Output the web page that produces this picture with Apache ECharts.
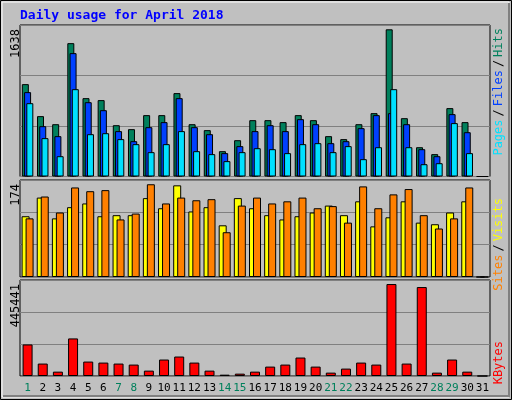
<!DOCTYPE html>
<html><head><meta charset="utf-8">
<script src="https://cdn.jsdelivr.net/npm/echarts@6/dist/echarts.min.js"></script>
<style>html,body{margin:0;padding:0;background:#c0c0c0}#c{width:512px;height:400px}</style>
</head><body><div id="c"></div>
<script>
const days = ['1','2','3','4','5','6','7','8','9','10','11','12','13','14','15','16','17','18','19','20','21','22','23','24','25','26','27','28','29','30','31'];
const weekendDays = ['1','7','8','14','15','21','22','28','29'];
const hits  = [1028,672,582,1484,872,850,571,527,683,683,928,582,516,282,404,627,627,605,683,627,449,416,582,705,1638,649,326,249,761,605,0];
const files = [939,560,449,1373,827,738,505,393,549,605,872,549,471,260,338,505,571,505,638,582,371,393,538,683,705,582,304,226,694,493,0];
const pages = [816,427,226,972,471,482,416,360,271,360,505,282,249,171,271,315,304,260,360,371,271,338,193,326,972,326,137,148,594,260,0];
const visits= [114,149,110,131,138,114,116,116,148,129,172,123,131,97,148,129,116,108,114,121,134,116,142,95,112,142,102,99,121,142,0];
const sites = [110,151,121,168,161,163,108,119,174,138,149,144,146,84,134,149,138,142,149,129,133,102,170,129,155,165,116,91,110,168,0];
const kbytes= [152800,60200,21100,182000,69900,65000,60200,55300,26000,79700,94300,65000,26000,6500,11400,21100,45500,55300,89400,45500,16300,35800,65000,55300,445441,60200,430800,16300,79700,21100,0];
const maxLabels = ['1638','174','445441'];

const chart = echarts.init(document.getElementById('c'));
const mono = 'DejaVu Sans Mono';
const grids = [
  {left:20, right:22, top:25, height:151.5},
  {left:20, right:22, top:180, height:97},
  {left:20, right:22, top:280, height:96}
];
const gridStyle = {show:true, borderColor:'#000', borderWidth:1, backgroundColor:'#c0c0c0'};
const yMax = [1686, 182, 465000];
function xa(i){return {type:'category', gridIndex:i, data:days, boundaryGap:true,
  axisLine:{show:false}, axisTick:{show:false},
  axisLabel:{show:i===2, interval:0, fontFamily:mono, fontSize:11, margin:7,
    color:(v)=>weekendDays.includes(v)?'#00805c':'#000'}};}
function ya(i){return {type:'value', gridIndex:i, min:0, max:yMax[i], interval:yMax[i]/3,
  axisLabel:{show:false}, axisLine:{show:false}, axisTick:{show:false},
  splitLine:{lineStyle:{color:'#808080', width:1}}};}
const bs = {borderColor:'#000', borderWidth:1};
function bar(name,data,g,color,w,gap){return {name, type:'bar', data, xAxisIndex:g, yAxisIndex:g,
  barWidth:w, barGap:gap, itemStyle:Object.assign({color},bs), animation:false};}
function vtext(x,y,parts){return {type:'text', x, y, rotation:Math.PI/2,
  style:{text:parts, font:'12px '+mono, align:'right', verticalAlign:'middle', fill:'#000'}};}
chart.setOption({
  backgroundColor:'#c0c0c0',
  grid: grids.map(g=>Object.assign({},g,gridStyle)),
  xAxis:[xa(0),xa(1),xa(2)],
  yAxis:[ya(0),ya(1),ya(2)],
  series:[
    bar('Hits',hits,0,'#00805c',7,'-68%'),
    bar('Files',files,0,'#0040ff',7,'-68%'),
    bar('Pages',pages,0,'#00e0ff',7,'-68%'),
    bar('Visits',visits,1,'#ffff00',8,'-50%'),
    bar('Sites',sites,1,'#ff8000',8,'-50%'),
    bar('KBytes',kbytes,2,'#ff0000',10,'0%')
  ],
  graphic:[
    {type:'rect', shape:{x:0.5,y:0.5,width:511,height:399}, style:{fill:'none',stroke:'#000',lineWidth:1}},
    {type:'rect', shape:{x:2,y:2,width:507,height:395}, style:{fill:'none',stroke:'#fff',lineWidth:1}},
    {type:'polyline', shape:{points:[[509,3],[509,396],[3,396]]}, style:{fill:'none',stroke:'#808080',lineWidth:2}},
    {type:'text', x:20, y:9, style:{text:'Daily usage for April 2018', font:'bold 13px '+mono, fill:'#0000ff'}},
    vtext(16,29,maxLabels[0]),
    vtext(16,184,maxLabels[1]),
    vtext(16,284,maxLabels[2]),
    {type:'text', x:499, y:28, rotation:Math.PI/2,
      style:{text:'{p|Pages}{s|/}{f|Files}{s|/}{h|Hits}', align:'right', verticalAlign:'middle',
        font:'12px '+mono,
        rich:{p:{fill:'#00e0ff',font:'12px '+mono},s:{fill:'#000',font:'12px '+mono,padding:[0,3]},f:{fill:'#0040ff',font:'12px '+mono},h:{fill:'#00805c',font:'12px '+mono}}}},
    {type:'text', x:499, y:198, rotation:Math.PI/2,
      style:{text:'{a|Sites}{s|/}{b|Visits}', align:'right', verticalAlign:'middle', font:'12px '+mono,
        rich:{a:{fill:'#ff8000',font:'12px '+mono},s:{fill:'#000',font:'12px '+mono,padding:[0,3]},b:{fill:'#ffff00',font:'12px '+mono}}}},
    {type:'text', x:499, y:341, rotation:Math.PI/2,
      style:{text:'KBytes', align:'right', verticalAlign:'middle', font:'12px '+mono, fill:'#ff0000'}}
  ]
});
</script></body></html>
